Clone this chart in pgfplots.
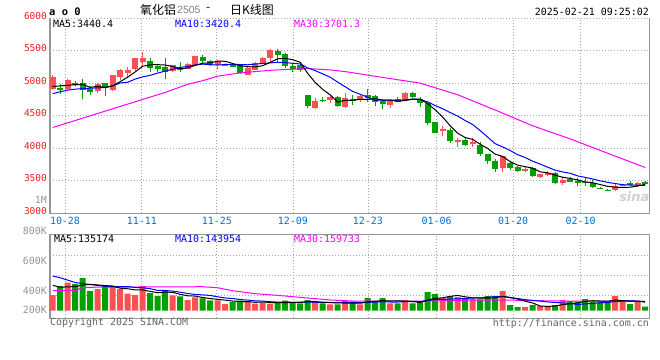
\documentclass[border=0pt]{standalone}
\usepackage{pgfplots}
\pgfplotsset{compat=1.18}
\usepackage{pgfplotstable}
\usepackage{fontspec}
\setmainfont{DejaVu Sans}
\newfontfamily\monofont{DejaVu Sans Mono}
\newfontfamily\cjk{Noto Sans CJK SC}
\newfontfamily\arialfont{Liberation Sans}
\newfontfamily\sinafont{DejaVu Sans}
\newcommand{\mf}{\monofont\fontsize{10}{12}\selectfont}

\definecolor{cred}{RGB}{250,82,82}
\definecolor{cgreen}{RGB}{0,160,0}
\definecolor{mablue}{RGB}{0,0,255}
\definecolor{mamag}{RGB}{255,0,255}
\definecolor{gridc}{RGB}{165,165,165}
\definecolor{framec}{RGB}{150,150,150}
\definecolor{dateblue}{RGB}{0,112,210}
\definecolor{pricered}{RGB}{235,30,30}
\definecolor{volgray}{RGB}{150,150,150}
\definecolor{copygray}{RGB}{100,100,100}

% i open high low close volume(K)
\pgfplotstableread{
i o h l c v
0 4910 5135 4890 5090 267
2 4910 5060 4900 5050 476
6 4875 5000 4850 4985 369
8 4900 5130 4880 5125 420
9 5100 5220 5050 5210 369
10 5160 5255 5075 5205 289
11 5225 5390 5190 5385 267
12 5325 5475 5260 5385 420
16 5195 5280 5175 5275 260
18 5225 5305 5220 5300 182
19 5275 5425 5270 5420 226
22 5280 5360 5215 5340 175
23 5280 5310 5270 5295 114
26 5135 5245 5130 5235 165
27 5210 5335 5205 5315 119
28 5300 5400 5295 5395 131
29 5385 5530 5325 5505 119
35 4615 4780 4610 4735 148
37 4740 4800 4690 4795 107
39 4630 4845 4620 4780 165
41 4760 4835 4720 4810 107
45 4667 4760 4615 4730 124
47 4745 4865 4740 4845 182
52 4275 4350 4196 4290 216
54 4115 4165 4027 4125 233
56 4070 4155 4027 4099 199
60 3690 3885 3630 3880 335
63 3648 3710 3640 3679 63
65 3556 3605 3550 3597 80
66 3597 3648 3572 3622 63
68 3464 3566 3429 3520 182
75 3352 3455 3345 3420 250
76 3426 3450 3420 3440 148
78 3413 3485 3410 3470 148
}\upData

\pgfplotstableread{
i o h l c v
1 4925 4995 4830 4895 420
3 5000 5030 4960 4990 454
4 5010 5060 4755 4890 556
5 4920 4965 4820 4860 335
7 5005 5010 4810 4950 420
13 5350 5385 5175 5235 301
14 5265 5275 5175 5225 250
15 5245 5385 5070 5175 335
17 5240 5325 5175 5210 243
20 5400 5435 5290 5340 209
21 5350 5355 5260 5300 175
24 5300 5310 5245 5250 148
25 5285 5295 5145 5160 170
30 5500 5525 5335 5435 148
31 5445 5460 5240 5265 170
32 5265 5290 5180 5215 148
33 5285 5300 5180 5200 124
34 4820 4825 4615 4645 182
36 4750 4785 4715 4730 124
38 4795 4800 4640 4650 107
40 4750 4820 4665 4740 153
42 4820 4913 4720 4780 216
43 4805 4815 4650 4705 165
44 4730 4740 4605 4680 216
46 4760 4790 4715 4720 124
48 4845 4870 4770 4795 124
49 4755 4795 4640 4693 153
50 4693 4700 4360 4386 318
51 4406 4410 4232 4242 284
53 4283 4308 4078 4119 250
55 4130 4155 4040 4053 199
57 4053 4104 3884 3915 192
58 3915 3920 3761 3797 250
59 3805 3837 3633 3685 250
61 3770 3810 3664 3694 97
62 3719 3735 3630 3648 63
64 3699 3720 3555 3571 97
67 3617 3632 3455 3464 97
69 3525 3556 3475 3480 165
70 3485 3546 3413 3478 153
71 3480 3546 3413 3470 199
72 3464 3505 3395 3403 153
73 3390 3400 3370 3380 153
74 3362 3372 3337 3342 153
77 3470 3490 3425 3429 114
79 3482 3500 3462 3465 68
}\downData

\pgfplotsset{
  kbase/.style={
    scale only axis, width=599.3bp, anchor=north west,
    xmin=-0.36, xmax=79.55,
    axis line style={draw=none},
    tick style={draw=none}, major tick length=0pt,
    xtick={1.64,11.9,21.9,32.04,42.04,51.2,61.4,70.4},
    xmajorgrids, ymajorgrids,
    grid style={gridc, line width=0.9bp, dash pattern=on 1bp off 2bp},
    clip=false,
  },
  wick/.style={forget plot, draw=none, mark=none,
    error bars/.cd, y dir=both, y explicit, error mark=none,
    error bar style={draw=#1, line width=1bp, solid}},
  body/.style={forget plot, draw=none, mark=none,
    error bars/.cd, y dir=both, y explicit, error mark=none,
    error bar style={draw=#1, line width=6bp, solid}},
}

\begin{document}
\begin{tikzpicture}
\fill[white,use as bounding box] (0,0) rectangle (660bp,-360bp);

% price panel
\begin{axis}[kbase, at={(50bp,-18.3bp)}, height=195bp,
  ymin=3000, ymax=6000, ytick={3000,3500,4000,4500,5000,5500,6000},
  yticklabels={3000,3500,4000,4500,5000,5500,6000},
  yticklabel style={font=\monofont\fontsize{9.5}{11}\selectfont, text=pricered, anchor=east, inner sep=0pt, xshift=-3bp, yshift=2.5bp},
  xticklabels={10-28,11-11,11-25,12-09,12-23,01-06,01-20,02-10},
  xticklabel style={font=\mf, text=dateblue, anchor=north, inner sep=0pt, yshift=-3.6bp},
]
\draw[framec, line width=1.3bp] (rel axis cs:0,1) -- (rel axis cs:0,0) -- (rel axis cs:1,0) -- (rel axis cs:1,1);
\node[anchor=center, inner sep=0pt, text=black!18] at (rel axis cs:0.975,0.085) {\sinafont\bfseries\itshape\fontsize{13}{13}\selectfont sina};

\addplot[wick=cred] table[x=i, y expr={(\thisrow{h}+\thisrow{l})/2}, y error expr={(\thisrow{h}-\thisrow{l})/2}] {\upData};
\addplot[body=cred] table[x=i, y expr={(\thisrow{o}+\thisrow{c})/2}, y error expr={max(abs(\thisrow{c}-\thisrow{o})/2,8)}] {\upData};
\addplot[wick=cgreen] table[x=i, y expr={(\thisrow{h}+\thisrow{l})/2}, y error expr={(\thisrow{h}-\thisrow{l})/2}] {\downData};
\addplot[body=cgreen] table[x=i, y expr={(\thisrow{o}+\thisrow{c})/2}, y error expr={max(abs(\thisrow{c}-\thisrow{o})/2,8)}] {\downData};

% MA30
\addplot[mamag, line width=1bp, mark=none] coordinates {(0,4320)(5,4500)(10,4680)(15,4860)(18,4985)(20,5040)(22,5110)(25,5160)(29,5200)(31,5212)(34,5228)(37,5205)(39,5180)(44,5090)(49,5003)(54,4824)(59,4589)(64,4346)(69,4145)(74,3924)(79,3705)};
% MA10
\addplot[mablue, line width=1bp, mark=none] coordinates {(0,4840)(1,4870)(2,4895)(3,4910)(4,4918)(5,4925)(6,4930)(7,4935)(8,4960)(9,5005)(10,5016)(11,5065)(12,5099)(13,5123)(14,5157)(15,5188)(16,5217)(17,5243)(18,5261)(19,5282)(20,5295)(21,5287)(22,5282)(23,5288)(24,5291)(25,5289)(26,5285)(27,5296)(28,5305)(29,5314)(30,5323)(31,5320)(32,5307)(33,5298)(34,5238)(35,5195)(36,5145)(37,5093)(38,5018)(39,4946)(40,4876)(41,4831)(42,4787)(43,4738)(44,4741)(45,4740)(46,4739)(47,4744)(48,4759)(49,4750)(50,4714)(51,4658)(52,4609)(53,4550)(54,4495)(55,4427)(56,4365)(57,4272)(58,4172)(59,4071)(60,4021)(61,3966)(62,3902)(63,3858)(64,3802)(65,3757)(66,3709)(67,3664)(68,3636)(69,3616)(70,3575)(71,3553)(72,3528)(73,3499)(74,3476)(75,3458)(76,3440)(77,3436)(78,3431)(79,3430)};
% MA5
\addplot[black, line width=1bp, mark=none] coordinates {(0,4950)(1,4960)(2,4970)(3,4978)(4,4983)(5,4937)(6,4955)(7,4935)(8,4962)(9,5026)(10,5095)(11,5175)(12,5262)(13,5284)(14,5287)(15,5281)(16,5259)(17,5224)(18,5237)(19,5276)(20,5309)(21,5314)(22,5340)(23,5339)(24,5305)(25,5269)(26,5256)(27,5251)(28,5271)(29,5322)(30,5377)(31,5383)(32,5363)(33,5324)(34,5153)(35,5013)(36,4906)(37,4822)(38,4712)(39,4738)(40,4739)(41,4755)(42,4752)(43,4763)(44,4743)(45,4741)(46,4723)(47,4736)(48,4754)(49,4757)(50,4688)(51,4592)(52,4481)(53,4346)(54,4232)(55,4166)(56,4137)(57,4062)(58,3998)(59,3910)(60,3875)(61,3794)(62,3741)(63,3717)(64,3694)(65,3638)(66,3623)(67,3587)(68,3555)(69,3537)(70,3513)(71,3482)(72,3470)(73,3442)(74,3415)(75,3403)(76,3397)(77,3402)(78,3420)(79,3445)};
\end{axis}

% volume panel
\begin{axis}[kbase, at={(50bp,-234.3bp)}, height=84bp,
  ymin=-129, ymax=1299, ytick={255,595,947},
  yticklabels={}, xticklabels={},
]
\draw[framec, line width=1.3bp] (rel axis cs:0,0) rectangle (rel axis cs:1,1);
\addplot[ybar, bar width=6bp, bar shift=0pt, fill=cred, draw=none, forget plot] table[x=i, y=v] {\upData};
\addplot[ybar, bar width=6bp, bar shift=0pt, fill=cgreen, draw=none, forget plot] table[x=i, y=v] {\downData};
\addplot[mamag, line width=1bp, mark=none] coordinates {(0,340)(3,345)(4,395)(6,400)(20,408)(22,390)(24,340)(27,290)(31,250)(37,182)(40,165)(50,165)(56,180)(60,182)(65,170)(70,163)(79,158)};
\addplot[mablue, line width=1bp, mark=none] coordinates {(0,590)(1,560)(2,520)(3,480)(4,460)(5,445)(6,430)(7,415)(8,410)(9,409)(10,411)(11,396)(12,390)(13,375)(14,344)(15,344)(16,333)(17,315)(18,292)(19,277)(20,269)(21,260)(22,236)(23,217)(24,207)(25,190)(26,181)(27,168)(28,163)(29,153)(30,146)(31,146)(32,143)(33,144)(34,148)(35,145)(36,141)(37,140)(38,138)(39,142)(40,143)(41,137)(42,143)(43,147)(44,151)(45,148)(46,148)(47,156)(48,158)(49,156)(50,173)(51,191)(52,191)(53,199)(54,201)(55,208)(56,216)(57,217)(58,229)(59,239)(60,241)(61,222)(62,207)(63,188)(64,175)(65,163)(66,149)(67,140)(68,133)(69,124)(70,106)(71,116)(72,125)(73,134)(74,140)(75,157)(76,165)(77,167)(78,164)(79,154)};
\addplot[black, line width=1bp, mark=none] coordinates {(0,431)(1,400)(2,405)(3,410)(4,435)(5,448)(6,438)(7,427)(8,420)(9,383)(10,373)(11,353)(12,353)(13,329)(14,305)(15,315)(16,313)(17,278)(18,254)(19,249)(20,224)(21,207)(22,193)(23,180)(24,164)(25,156)(26,154)(27,143)(28,147)(29,141)(30,136)(31,137)(32,143)(33,142)(34,154)(35,154)(36,145)(37,137)(38,134)(39,130)(40,131)(41,128)(42,150)(43,161)(44,171)(45,166)(46,169)(47,162)(48,154)(49,141)(50,180)(51,212)(52,219)(53,244)(54,260)(55,236)(56,219)(57,215)(58,215)(59,218)(60,245)(61,225)(62,199)(63,162)(64,131)(65,80)(66,73)(67,80)(68,104)(69,117)(70,132)(71,159)(72,170)(73,165)(74,162)(75,182)(76,171)(77,164)(78,163)(79,146)};
\end{axis}

% header texts
\node[anchor=west, inner sep=0pt] at (49bp,-11.5bp) {\monofont\bfseries\fontsize{10.5}{12}\selectfont a o 0};
\node[anchor=west, inner sep=0pt] at (140bp,-10bp) {\cjk\fontsize{12}{12}\selectfont 氧化铝};
\node[anchor=west, inner sep=0pt, text=gray] at (177bp,-9.8bp) {\arialfont\fontsize{10.5}{12}\selectfont 2505};
\node[anchor=west, inner sep=0pt] at (206bp,-10bp) {\cjk\fontsize{12}{12}\selectfont -};
\node[anchor=west, inner sep=0pt] at (230bp,-9.5bp) {\cjk\fontsize{12}{12}\selectfont 日K线图};
\node[anchor=east, inner sep=0pt] at (649bp,-11.5bp) {\mf 2025-02-21 09:25:02};

% MA legends
\node[anchor=west, inner sep=0pt, text=black] at (53bp,-24bp) {\mf MA5:3440.4};
\node[anchor=west, inner sep=0pt, text=mablue] at (175bp,-24bp) {\mf MA10:3420.4};
\node[anchor=west, inner sep=0pt, text=mamag] at (294bp,-24bp) {\mf MA30:3701.3};
\node[anchor=west, inner sep=0pt, text=black] at (54bp,-238.5bp) {\mf MA5:135174};
\node[anchor=west, inner sep=0pt, text=mablue] at (175bp,-238.5bp) {\mf MA10:143954};
\node[anchor=west, inner sep=0pt, text=mamag] at (294bp,-238.5bp) {\mf MA30:159733};

% left labels
\node[anchor=east, inner sep=0pt, text=volgray] at (47bp,-200bp) {\mf 1M};
\node[anchor=east, inner sep=0pt, text=volgray] at (47bp,-230.5bp) {\mf 800K};
\node[anchor=east, inner sep=0pt, text=volgray] at (47bp,-260.5bp) {\mf 600K};
\node[anchor=east, inner sep=0pt, text=volgray] at (47bp,-290.5bp) {\mf 400K};
\node[anchor=east, inner sep=0pt, text=volgray] at (47bp,-310bp) {\mf 200K};

% footer
\node[anchor=west, inner sep=0pt, text=copygray] at (50bp,-323bp) {\mf Copyright 2025 SINA.COM};
\node[anchor=east, inner sep=0pt, text=copygray] at (649bp,-324bp) {\mf http://finance.sina.com.cn};
\end{tikzpicture}
\end{document}
